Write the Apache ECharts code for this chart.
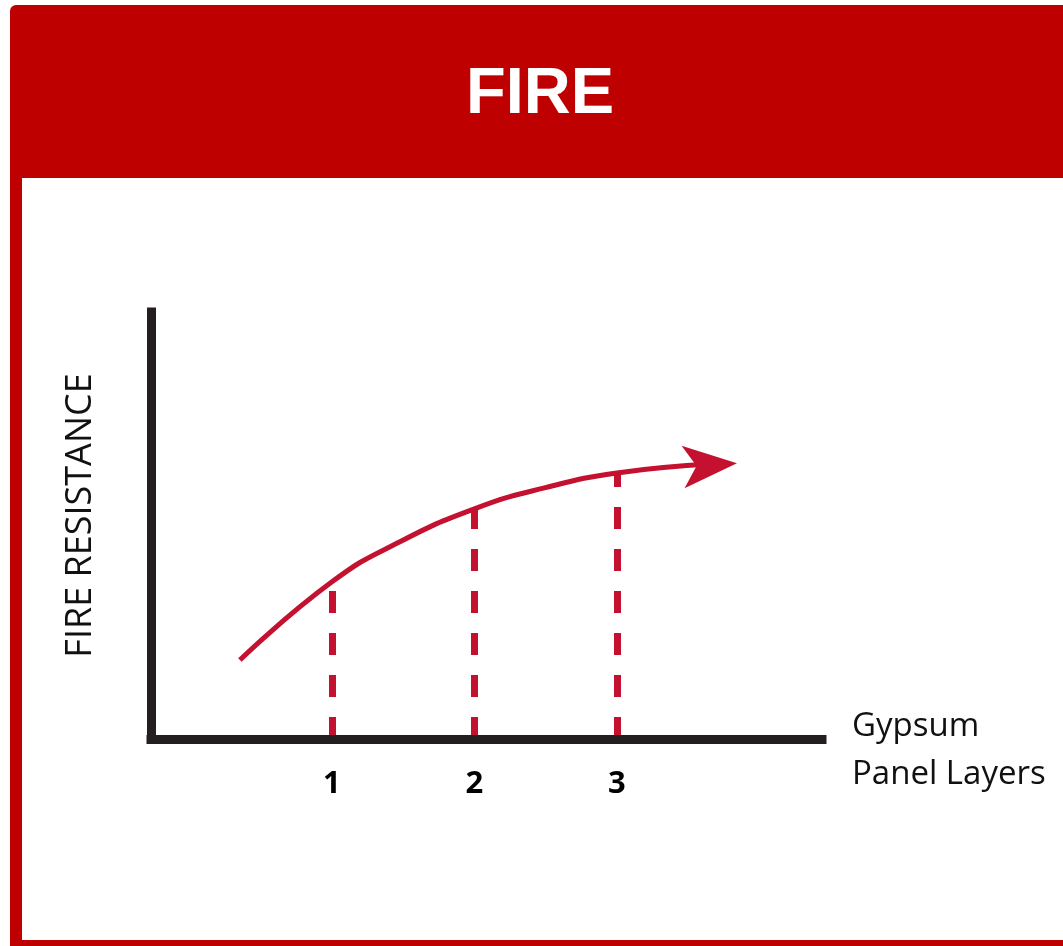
<!DOCTYPE html>
<html>
<head>
<meta charset="utf-8">
<script src="https://cdn.jsdelivr.net/npm/echarts@6/dist/echarts.min.js"></script>
<style>
  html, body { margin: 0; padding: 0; background: #fff; }
  #chart { width: 1063px; height: 946px; }
</style>
</head>
<body>
<div id="chart"></div>
<script>
// curve: x = panel layers, y = relative fire resistance (0..10)
const curveX = [0.354, 1, 1.477, 2, 2.491, 3, 3.653];
const curveY = [1.85, 3.68, 4.62, 5.39, 5.88, 6.23, 6.44];
// arrow tip at the end of the curve
const arrowTip = [3.842, 6.46];
// drop lines at each layer count
const layers = [1, 2, 3];
const layerResistance = [3.68, 5.39, 6.23];
const layerLabels = ["1", "2", "3"];

const RED = "#BF0000";
const CURVE = "#C4112F";
const INK = "#231F20";

const chart = echarts.init(document.getElementById("chart"));

const option = {
  animation: false,
  backgroundColor: "#fff",
  title: {
    text: "FIRE",
    left: 540,
    top: 63,
    textAlign: "center",
    padding: 0,
    textStyle: {
      color: "#fff",
      fontFamily: "Liberation Sans",
      fontWeight: "bold",
      fontSize: 65,
    },
  },
  graphic: [
    // red frame: header band, left rail, bottom rail
    { type: "rect", silent: true, z: -1, shape: { x: 10, y: 5, width: 1053, height: 173, r: [6, 0, 0, 0] }, style: { fill: RED } },
    { type: "rect", silent: true, z: -1, shape: { x: 10, y: 178, width: 12, height: 768 }, style: { fill: RED } },
    { type: "rect", silent: true, z: -1, shape: { x: 10, y: 940, width: 1053, height: 6 }, style: { fill: RED } },
    // x axis title, sits right of the axis end
    {
      type: "text",
      silent: true,
      left: 852,
      top: 703,
      style: {
        text: "Gypsum\nPanel Layers",
        fill: "#111",
        font: "33px 'Open Sans'",
        lineHeight: 48,
      },
    },
  ],
  grid: {
    left: 151,
    top: 312,
    width: 671,
    height: 427,
  },
  xAxis: {
    type: "value",
    min: -0.27,
    max: 4.439,
    z: 6,
    splitLine: { show: false },
    axisTick: { show: false },
    axisLine: {
      onZero: false,
      lineStyle: { color: INK, width: 9, cap: "square" },
    },
    axisLabel: {
      customValues: layers,
      formatter: (v) => layerLabels[layers.indexOf(v)] || "",
      color: "#000",
      fontFamily: "Open Sans",
      fontWeight: "bold",
      fontSize: 31,
      margin: 30,
    },
  },
  yAxis: {
    type: "value",
    min: 0,
    max: 10,
    z: 6,
    splitLine: { show: false },
    axisTick: { show: false },
    axisLabel: { show: false },
    axisLine: {
      onZero: false,
      lineStyle: { color: INK, width: 9, cap: "square" },
    },
    name: "FIRE RESISTANCE",
    nameLocation: "middle",
    nameRotate: 90,
    nameGap: 52,
    nameTextStyle: {
      color: "#111",
      fontFamily: "Open Sans",
      fontSize: 36,
      padding: [0, 0, 0, 20],
    },
  },
  series: [
    {
      type: "line",
      data: curveX.map((x, i) => [x, curveY[i]]),
      smooth: 0.5,
      symbol: "none",
      silent: true,
      lineStyle: { color: CURVE, width: 5 },
      itemStyle: { color: CURVE },
      markLine: {
        silent: true,
        symbol: "none",
        label: { show: false },
        lineStyle: { color: CURVE, width: 7, type: [22, 20] },
        data: layers.map((x, i) => [
          { coord: [x, 0] },
          { coord: [x, layerResistance[i]] },
        ]),
      },
    },
    {
      type: "scatter",
      data: [arrowTip],
      silent: true,
      symbol: "arrow",
      symbolSize: [32, 54],
      symbolRotate: -86,
      itemStyle: { color: CURVE, opacity: 1 },
    },
  ],
};

chart.setOption(option);
</script>
</body>
</html>
